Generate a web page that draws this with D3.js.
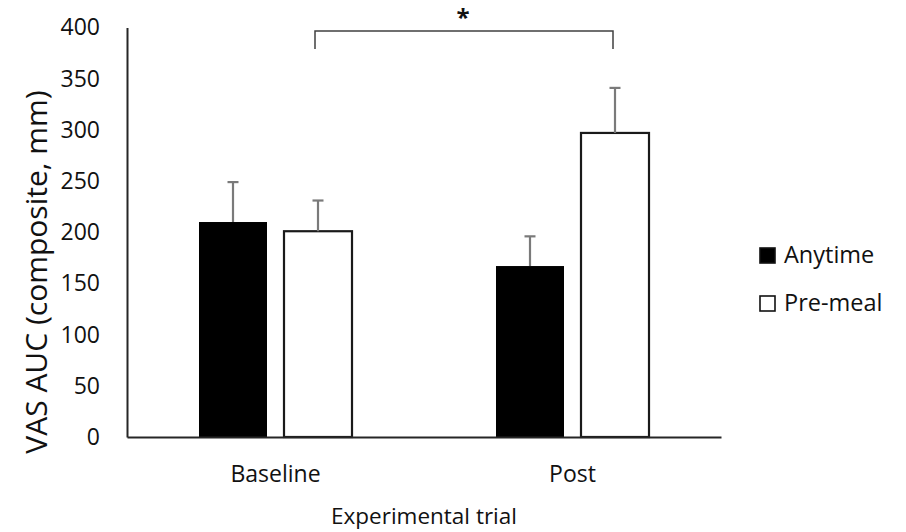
<!DOCTYPE html>
<html>
<head>
<meta charset="utf-8">
<script src="https://cdn.jsdelivr.net/npm/d3@7"></script>
<style>
  html, body { margin: 0; padding: 0; background: #fff; }
  svg { display: block; font-family: "Open Sans", sans-serif; }
</style>
</head>
<body>
<svg id="chart" width="906" height="532"></svg>
<script>
// Experimental trials and groups
const trials = ["Baseline", "Post"];
const groups = ["Anytime", "Pre-meal"];

// Mean VAS AUC per trial, one array per group
const anytimeMeans = [210, 167];
const premealMeans = [201, 297];

// Standard error (upper bar only)
const anytimeErrors = [39, 29];
const premealErrors = [30, 44];

// Y-axis tick values
const yTicks = [0, 50, 100, 150, 200, 250, 300, 350, 400];

const groupFill = { "Anytime": "#000000", "Pre-meal": "#ffffff" };

const rows = trials.map((t, i) => ({
  trial: t,
  values: [
    { group: "Anytime", mean: anytimeMeans[i], err: anytimeErrors[i] },
    { group: "Pre-meal", mean: premealMeans[i], err: premealErrors[i] }
  ]
}));

const svg = d3.select("#chart");

const x0 = d3.scaleBand().domain(trials).range([127, 721]).paddingInner(0).paddingOuter(0);
const x1 = d3.scaleBand().domain(groups).range([0, x0.bandwidth()])
  .paddingInner(0.2).paddingOuter(0.847);
const y = d3.scaleLinear().domain([0, 400]).range([437, 27.5]);

// Y axis
const yAxis = svg.append("g")
  .attr("transform", "translate(127,0)")
  .call(d3.axisLeft(y).tickValues(yTicks).tickSize(0).tickPadding(27));
yAxis.select(".domain").attr("stroke", "#262626").attr("stroke-width", 2);
yAxis.selectAll("text")
  .attr("font-family", "Open Sans, sans-serif")
  .attr("font-size", 23)
  .attr("fill", "#111");

// Bars
const gTrial = svg.append("g").selectAll("g")
  .data(rows)
  .join("g")
  .attr("transform", d => `translate(${x0(d.trial)},0)`);

gTrial.selectAll("rect")
  .data(d => d.values)
  .join("rect")
  .attr("x", d => x1(d.group))
  .attr("width", x1.bandwidth())
  .attr("y", d => y(d.mean))
  .attr("height", d => y(0) - y(d.mean))
  .attr("fill", d => groupFill[d.group])
  .attr("stroke", d => d.group === "Anytime" ? "none" : "#1a1a1a")
  .attr("stroke-width", 2.2);

// Error bars (upper half)
const eb = gTrial.selectAll("g.err")
  .data(d => d.values)
  .join("g")
  .attr("class", "err")
  .attr("stroke", "#7a7a7a")
  .attr("stroke-width", 2.2);
eb.append("line")
  .attr("x1", d => x1(d.group) + x1.bandwidth() / 2)
  .attr("x2", d => x1(d.group) + x1.bandwidth() / 2)
  .attr("y1", d => y(d.mean))
  .attr("y2", d => y(d.mean + d.err));
eb.append("line")
  .attr("x1", d => x1(d.group) + x1.bandwidth() / 2 - 5.5)
  .attr("x2", d => x1(d.group) + x1.bandwidth() / 2 + 5.5)
  .attr("y1", d => y(d.mean + d.err))
  .attr("y2", d => y(d.mean + d.err));

// X axis
const xAxis = svg.append("g")
  .attr("transform", `translate(0,${y(0)})`)
  .call(d3.axisBottom(x0).tickSize(0).tickPadding(29).tickSizeOuter(0));
xAxis.select(".domain").attr("stroke", "#262626").attr("stroke-width", 2);
xAxis.selectAll("text")
  .attr("font-family", "Open Sans, sans-serif")
  .attr("font-size", 23)
  .attr("fill", "#111");

// Axis titles
svg.append("text")
  .attr("x", 424)
  .attr("y", 524)
  .attr("text-anchor", "middle")
  .attr("font-size", 22.5)
  .attr("fill", "#111")
  .text("Experimental trial");

svg.append("text")
  .attr("transform", "translate(47,272) rotate(-90)")
  .attr("text-anchor", "middle")
  .attr("font-size", 30)
  .attr("fill", "#111")
  .text("VAS AUC (composite, mm)");

// Significance bracket between the Pre-meal bars
const cx = (t, g) => x0(t) + x1(g) + x1.bandwidth() / 2;
const bx1 = cx("Baseline", "Pre-meal") - 3;
const bx2 = cx("Post", "Pre-meal") - 2;
svg.append("path")
  .attr("d", `M${bx1},49V31H${bx2}V49`)
  .attr("fill", "none")
  .attr("stroke", "#404040")
  .attr("stroke-width", 1.5);
svg.append("text")
  .attr("x", (bx1 + bx2) / 2 - 1)
  .attr("y", 26)
  .attr("text-anchor", "middle")
  .attr("font-size", 24)
  .attr("font-weight", "bold")
  .attr("fill", "#111")
  .text("*");

// Legend
const legend = svg.append("g").selectAll("g")
  .data(groups)
  .join("g")
  .attr("transform", (d, i) => `translate(760,${248 + i * 48})`);
legend.append("rect")
  .attr("width", 15)
  .attr("height", 15)
  .attr("fill", d => groupFill[d])
  .attr("stroke", "#111")
  .attr("stroke-width", 1.6);
legend.append("text")
  .attr("x", 24)
  .attr("y", 15)
  .attr("font-size", 23.5)
  .attr("fill", "#111")
  .text(d => d);
</script>
</body>
</html>
